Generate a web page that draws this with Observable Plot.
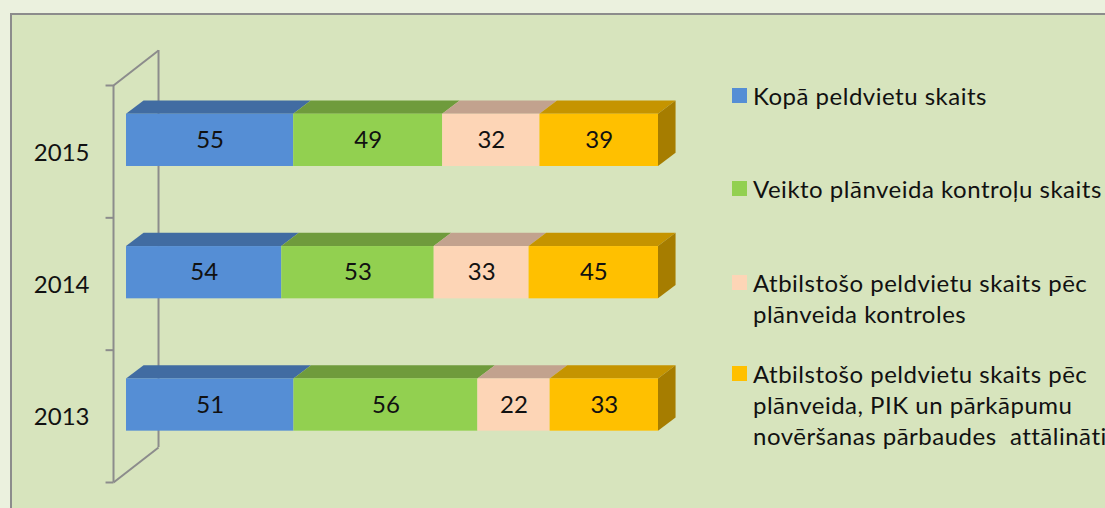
<!DOCTYPE html>
<html>
<head>
<meta charset="utf-8">
<script src="https://cdn.jsdelivr.net/npm/d3@7"></script>
<script src="https://cdn.jsdelivr.net/npm/@observablehq/plot@0.6"></script>
<style>
  html, body { margin: 0; padding: 0; }
  body { width: 1105px; height: 508px; overflow: hidden; background: #ebf1de; position: relative; font-family: Lato, "Open Sans", sans-serif; }
  #panel { position: absolute; left: 10px; top: 13px; width: 1200px; height: 600px; background: #d7e4bd; border-left: 2px solid #8c8c8c; border-top: 2px solid #8c8c8c; box-sizing: border-box; }
  #chart { position: absolute; left: 0; top: 0; }
  .leg { position: absolute; left: 732px; font-size: 24px; letter-spacing: 0.5px; line-height: 31px; color: #111; white-space: nowrap; }
  .leg .sw { position: absolute; left: 0; top: 8px; width: 15px; height: 15px; }
  .leg .tx { position: absolute; left: 21px; top: 0; }
</style>
</head>
<body>
<div id="panel"></div>
<div id="chart"></div>
<div id="legend"></div>
<script>
// ---- data ----
const years = [2015, 2014, 2013];
const seriesNames = [
  "Kopā peldvietu skaits",
  "Veikto plānveida kontroļu skaits",
  "Atbilstošo peldvietu skaits pēc\nplānveida kontroles",
  "Atbilstošo peldvietu skaits pēc\nplānveida, PIK un pārkāpumu\nnovēršanas pārbaudes  attālināti"
];
const kopa    = [55, 54, 51];
const veikto  = [49, 53, 56];
const atbKontr = [32, 33, 22];
const atbPIK  = [39, 45, 33];

// ---- styles ----
const frontColors = ["#558ed5", "#92d050", "#fdd5b6", "#ffc000"];
const topColors   = ["#416ca2", "#6f9b3c", "#c2a28e", "#c59400"];
const sideColor   = "#a67d00";
const axisColor   = "#8c8c8c";

// ---- geometry (in data units) ----
const faceLo = -0.112, faceHi = 0.283;   // front face extent around the year
const depthX = 3.3, depthY = 0.1;         // bar depth
const axisX = -2.44, tickLen = 1.5;       // front wall line
const wallDX = 8.46, wallDY = 0.265;      // back wall offset
const bounds = [2012.5, 2013.5, 2014.5, 2015.5];

// ---- build segments (100% stacked) ----
const seriesVals = [kopa, veikto, atbKontr, atbPIK];
const segs = [];
years.forEach((yr, i) => {
  const vals = seriesVals.map(s => s[i]);
  const total = d3.sum(vals);
  let cum = 0;
  vals.forEach((v, s) => {
    const x0 = cum / total * 100;
    cum += v;
    const x1 = cum / total * 100;
    segs.push({year: yr, s, value: v, x0, x1});
  });
});

const topPts = segs.flatMap((d, k) => [
  {id: k, s: d.s, y: d.year + faceHi, a: d.x0, b: d.x1},
  {id: k, s: d.s, y: d.year + faceHi + depthY, a: d.x0 + depthX, b: d.x1 + depthX}
]);
const sidePts = years.flatMap(yr => [
  {year: yr, x: 100, lo: yr + faceLo, hi: yr + faceHi},
  {year: yr, x: 100 + depthX, lo: yr + faceLo + depthY, hi: yr + faceHi + depthY}
]);

const plot = Plot.plot({
  width: 1105,
  height: 508,
  margin: 0,
  x: {domain: [0, 100], range: [126, 658], axis: null},
  y: {domain: [2012.5, 2015.5], range: [482, 85], axis: null},
  style: {background: "transparent", overflow: "visible", fontFamily: "Lato, 'Open Sans', sans-serif"},
  marks: [
    // back wall line and connecting diagonals
    Plot.ruleX([axisX + wallDX], {y1: 2012.5 + wallDY, y2: 2015.5 + wallDY, stroke: axisColor, strokeWidth: 2}),
    Plot.link([2012.5, 2015.5], {x1: axisX, y1: d => d, x2: axisX + wallDX, y2: d => d + wallDY, stroke: axisColor, strokeWidth: 2}),
    // front wall line + ticks
    Plot.ruleX([axisX], {y1: 2012.5, y2: 2015.5, stroke: axisColor, strokeWidth: 2}),
    Plot.link(bounds, {x1: axisX - tickLen, x2: axisX, y1: d => d, y2: d => d, stroke: axisColor, strokeWidth: 2}),
    // top faces
    Plot.areaX(topPts, {y: "y", x1: "a", x2: "b", z: "id", fill: d => topColors[d.s], curve: "linear"}),
    // side face of last segment
    Plot.areaY(sidePts, {x: "x", y1: "lo", y2: "hi", z: "year", fill: sideColor, curve: "linear"}),
    // front faces
    Plot.rect(segs, {x1: "x0", x2: "x1", y1: d => d.year + faceLo, y2: d => d.year + faceHi, fill: d => frontColors[d.s]}),
    // value labels
    Plot.text(segs, {x: d => (d.x0 + d.x1) / 2, y: d => d.year + (faceLo + faceHi) / 2, text: d => String(d.value), fontSize: 24, fill: "#111"}),
    // year labels
    Plot.text(years, {x: axisX, y: d => d - 0.01, text: d => String(d), textAnchor: "end", dx: -24, fontSize: 24, fill: "#111"})
  ]
});
document.getElementById("chart").appendChild(plot);

// ---- legend ----
const legTops = [80, 173, 267, 358];
const legend = document.getElementById("legend");
seriesNames.forEach((name, s) => {
  const item = document.createElement("div");
  item.className = "leg";
  item.style.top = legTops[s] + "px";
  const sw = document.createElement("div");
  sw.className = "sw";
  sw.style.background = frontColors[s];
  const tx = document.createElement("div");
  tx.className = "tx";
  tx.style.whiteSpace = "pre";
  tx.textContent = name;
  item.appendChild(sw);
  item.appendChild(tx);
  legend.appendChild(item);
});
</script>
</body>
</html>
